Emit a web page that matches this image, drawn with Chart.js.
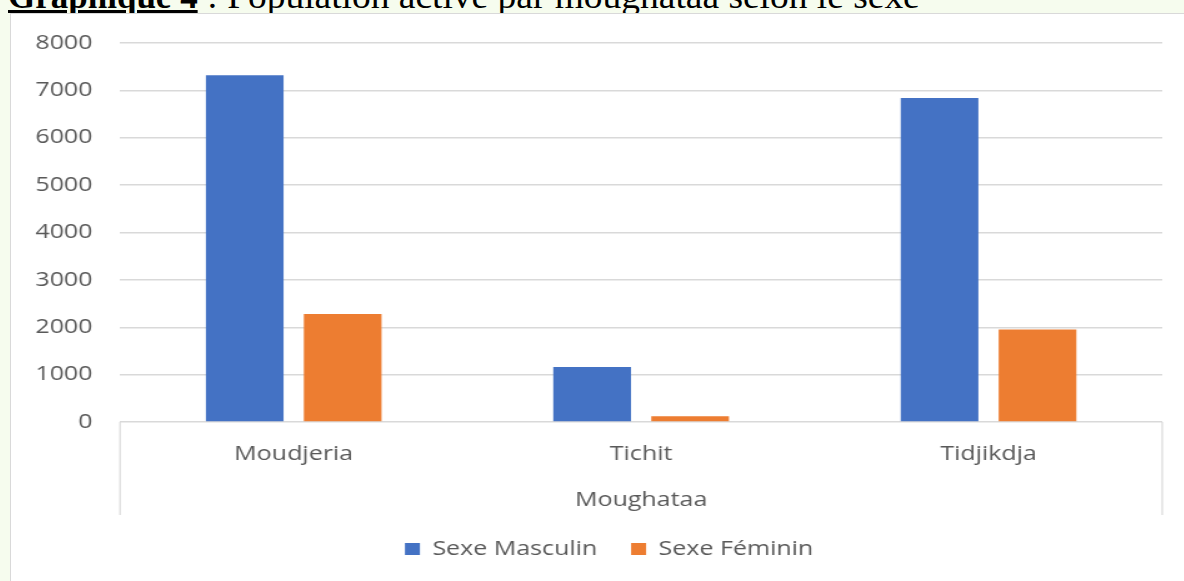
<!DOCTYPE html>
<html>
<head>
<meta charset="utf-8">
<script src="https://cdn.jsdelivr.net/npm/chart.js@4.4.1/dist/chart.umd.min.js"></script>
<style>
  html, body { margin: 0; padding: 0; }
  body { width: 1184px; height: 581px; overflow: hidden; background: #f6fcee; position: relative; }
  #caption {
    position: absolute; left: 8px; top: -21px; white-space: nowrap;
    font-family: 'Liberation Serif', 'Times New Roman', serif; font-size: 35px; line-height: 35px; color: #000;
  }
  #caption b { text-decoration: underline; text-decoration-thickness: 3px; }
  #caption span { display: inline-block; transform: scaleX(1.07); transform-origin: 0 0; }
  #frame {
    position: absolute; left: 10px; top: 13px; width: 1200px; height: 600px;
    box-sizing: border-box; border: 1.5px solid #d9d9d9; background: #fff;
  }
  #chart { position: absolute; left: 11px; top: 14px; transform: scaleX(1.25); transform-origin: 0 0; }
</style>
</head>
<body>
<div id="caption"><b>Graphique 4</b><span>&nbsp;: Population active par moughataa selon le sexe</span></div>
<div id="frame"></div>
<canvas id="chart" width="940" height="567"></canvas>
<script>
// Population active par moughataa selon le sexe

const moughataas = ['Moudjeria', 'Tichit', 'Tidjikdja'];
const sexeMasculin = [7320, 1160, 6840];
const sexeFeminin = [2280, 120, 1950];
const yTicks = { min: 0, max: 8000, step: 1000 };

const GRID = '#d9d9d9';
const TEXT = '#595959';
const FONT = { family: "'Open Sans', 'Noto Sans', sans-serif", size: 20 };

// Excel style box around the category axis (left / right edges down to the axis title)
const axisBox = {
  id: 'axisBox',
  afterDraw(chart) {
    const { ctx, chartArea } = chart;
    const depth = 93;
    ctx.save();
    ctx.strokeStyle = GRID;
    ctx.lineWidth = 1.2;
    ctx.beginPath();
    ctx.moveTo(chartArea.left, chartArea.bottom);
    ctx.lineTo(chartArea.left, chartArea.bottom + depth);
    ctx.moveTo(chartArea.right, chartArea.bottom);
    ctx.lineTo(chartArea.right, chartArea.bottom + depth);
    ctx.stroke();
    ctx.restore();
  },
};

// the Excel legend is centred on a frame wider than the visible crop
const legendNudge = {
  id: 'legendNudge',
  afterLayout(chart) {
    if (!chart.legend) return;
    chart.legend.left += 9;
    chart.legend.right += 9;
  },
};

new Chart(document.getElementById('chart'), {
  type: 'bar',
  data: {
    labels: moughataas,
    datasets: [
      {
        label: 'Sexe Masculin',
        data: sexeMasculin,
        backgroundColor: '#4472c4',
        borderWidth: 0,
        categoryPercentage: 0.564,
        barPercentage: 0.793,
      },
      {
        label: 'Sexe Féminin',
        data: sexeFeminin,
        backgroundColor: '#ed7d31',
        borderWidth: 0,
        categoryPercentage: 0.564,
        barPercentage: 0.793,
      },
    ],
  },
  options: {
    responsive: false,
    animation: false,
    devicePixelRatio: 1,
    layout: { padding: { left: 18, right: 19, top: 29, bottom: 12 } },
    plugins: {
      legend: {
        display: true,
        position: 'bottom',
        labels: { color: TEXT, font: FONT, boxWidth: 12, boxHeight: 12, padding: 27 },
      },
      tooltip: { enabled: false },
    },
    scales: {
      x: {
        grid: { display: false },
        border: { display: false },
        ticks: { color: TEXT, font: FONT, padding: 12 },
        title: { display: true, text: 'Moughataa', color: TEXT, font: FONT, padding: { top: 0, bottom: 0 } },
        afterFit(scale) { scale.height = 90; },
      },
      y: {
        min: yTicks.min,
        max: yTicks.max,
        // invisible tick marks give the label gap without padding the top of the plot
        grid: { color: GRID, lineWidth: 1.5, drawTicks: true, tickLength: 16, tickColor: 'rgba(0,0,0,0)' },
        border: { display: false },
        ticks: { color: TEXT, font: FONT, padding: 6, stepSize: yTicks.step, callback: v => String(v) },
        afterFit(scale) { scale.width = 69.2; },
      },
    },
  },
  plugins: [axisBox, legendNudge],
});
</script>
</body>
</html>
